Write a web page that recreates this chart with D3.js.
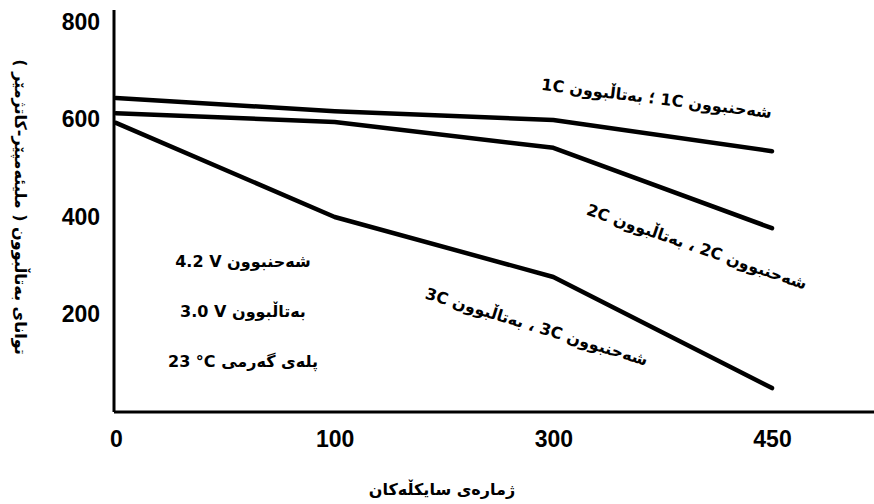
<!DOCTYPE html>
<html>
<head>
<meta charset="utf-8">
<script src="https://cdn.jsdelivr.net/npm/d3@7"></script>
<style>
  body { margin: 0; background: #fff; }
  .tick text { font-family: "Liberation Sans", Arial, sans-serif; font-weight: bold; font-size: 23px; fill: #000; }
  .ku { font-family: "DejaVu Sans", sans-serif; font-weight: bold; fill: #000; }
</style>
</head>
<body>
<svg id="chart" width="874" height="504"></svg>
<script>
// cycles and capacity (mAh)
var cycles = ["0", "100", "300", "450"];
var yTicks = [200, 400, 600, 800];
var cap1C = [644, 617, 599, 535];
var cap2C = [613, 595, 542, 377];
var cap3C = [593, 400, 277, 49];

var seriesLabels = [
    "شەحنبوون \u20661C\u2069 ؛ بەتاڵبوون \u20661C\u2069",
    "شەحنبوون \u20662C\u2069 ، بەتاڵبوون \u20662C\u2069",
    "شەحنبوون \u20663C\u2069 ، بەتاڵبوون \u20663C\u2069"
];
var notes = [
    "شەحنبوون \u20664.2 V\u2069",
    "بەتاڵبوون \u20663.0 V\u2069",
    "پلەی گەرمی \u206623 °C\u2069"
];
var yTitle = "توانای بەتاڵبوون ( ملیئەمپێر-کاتژمێر )";
var xTitle = "ژمارەی سایکڵەکان";

var svg = d3.select('#chart');

var x = d3.scalePoint().domain(cycles).range([116, 772]);
var y = d3.scaleLinear().domain([0, 800]).range([412, 22]);

// axis lines
svg.append('line').attr('x1', 114).attr('x2', 114).attr('y1', 10).attr('y2', y(0))
    .attr('stroke', '#000').attr('stroke-width', 3);
svg.append('line').attr('x1', 114).attr('x2', 874).attr('y1', y(0)).attr('y2', y(0))
    .attr('stroke', '#000').attr('stroke-width', 3);

var yAxis = svg.append('g')
    .attr('transform', 'translate(114,0)')
    .call(d3.axisLeft(y).tickValues(yTicks).tickSize(0).tickPadding(14));
yAxis.select('.domain').remove();

var xAxis = svg.append('g')
    .attr('transform', 'translate(0,' + y(0) + ')')
    .call(d3.axisBottom(x).tickSize(0).tickPadding(19));
xAxis.select('.domain').remove();

var line = d3.line()
    .x((d, i) => x(cycles[i]))
    .y(d => y(d));

[cap1C, cap2C, cap3C].forEach(function (s) {
    svg.append('path')
        .datum(s)
        .attr('d', line)
        .attr('fill', 'none')
        .attr('stroke', '#000')
        .attr('stroke-width', 4.5)
        .attr('stroke-linecap', 'round')
        .attr('stroke-linejoin', 'round');
});

// line labels (rotated along the curves)
var labelPos = [
    {x: 656, y: 104, a: 7},
    {x: 695, y: 252, a: 19},
    {x: 535, y: 332, a: 17}
];
svg.selectAll('.serieslabel')
    .data(seriesLabels)
    .enter()
    .append('text')
    .attr('class', 'ku')
    .attr('direction', 'rtl')
    .attr('text-anchor', 'middle')
    .attr('font-size', 16)
    .attr('transform', (d, i) => 'translate(' + labelPos[i].x + ',' + labelPos[i].y + ') rotate(' + labelPos[i].a + ')')
    .text(d => d);

svg.selectAll('.note')
    .data(notes)
    .enter()
    .append('text')
    .attr('class', 'ku')
    .attr('direction', 'rtl')
    .attr('text-anchor', 'middle')
    .attr('font-size', 16)
    .attr('x', 243)
    .attr('y', (d, i) => 267 + i * 50)
    .text(d => d);

svg.append('text')
    .attr('class', 'ku')
    .attr('direction', 'rtl')
    .attr('text-anchor', 'middle')
    .attr('font-size', 16)
    .attr('transform', 'translate(15,207) rotate(90)')
    .text(yTitle);

svg.append('text')
    .attr('class', 'ku')
    .attr('direction', 'rtl')
    .attr('text-anchor', 'middle')
    .attr('font-size', 16)
    .attr('x', 442)
    .attr('y', 495)
    .text(xTitle);
</script>
</body>
</html>
